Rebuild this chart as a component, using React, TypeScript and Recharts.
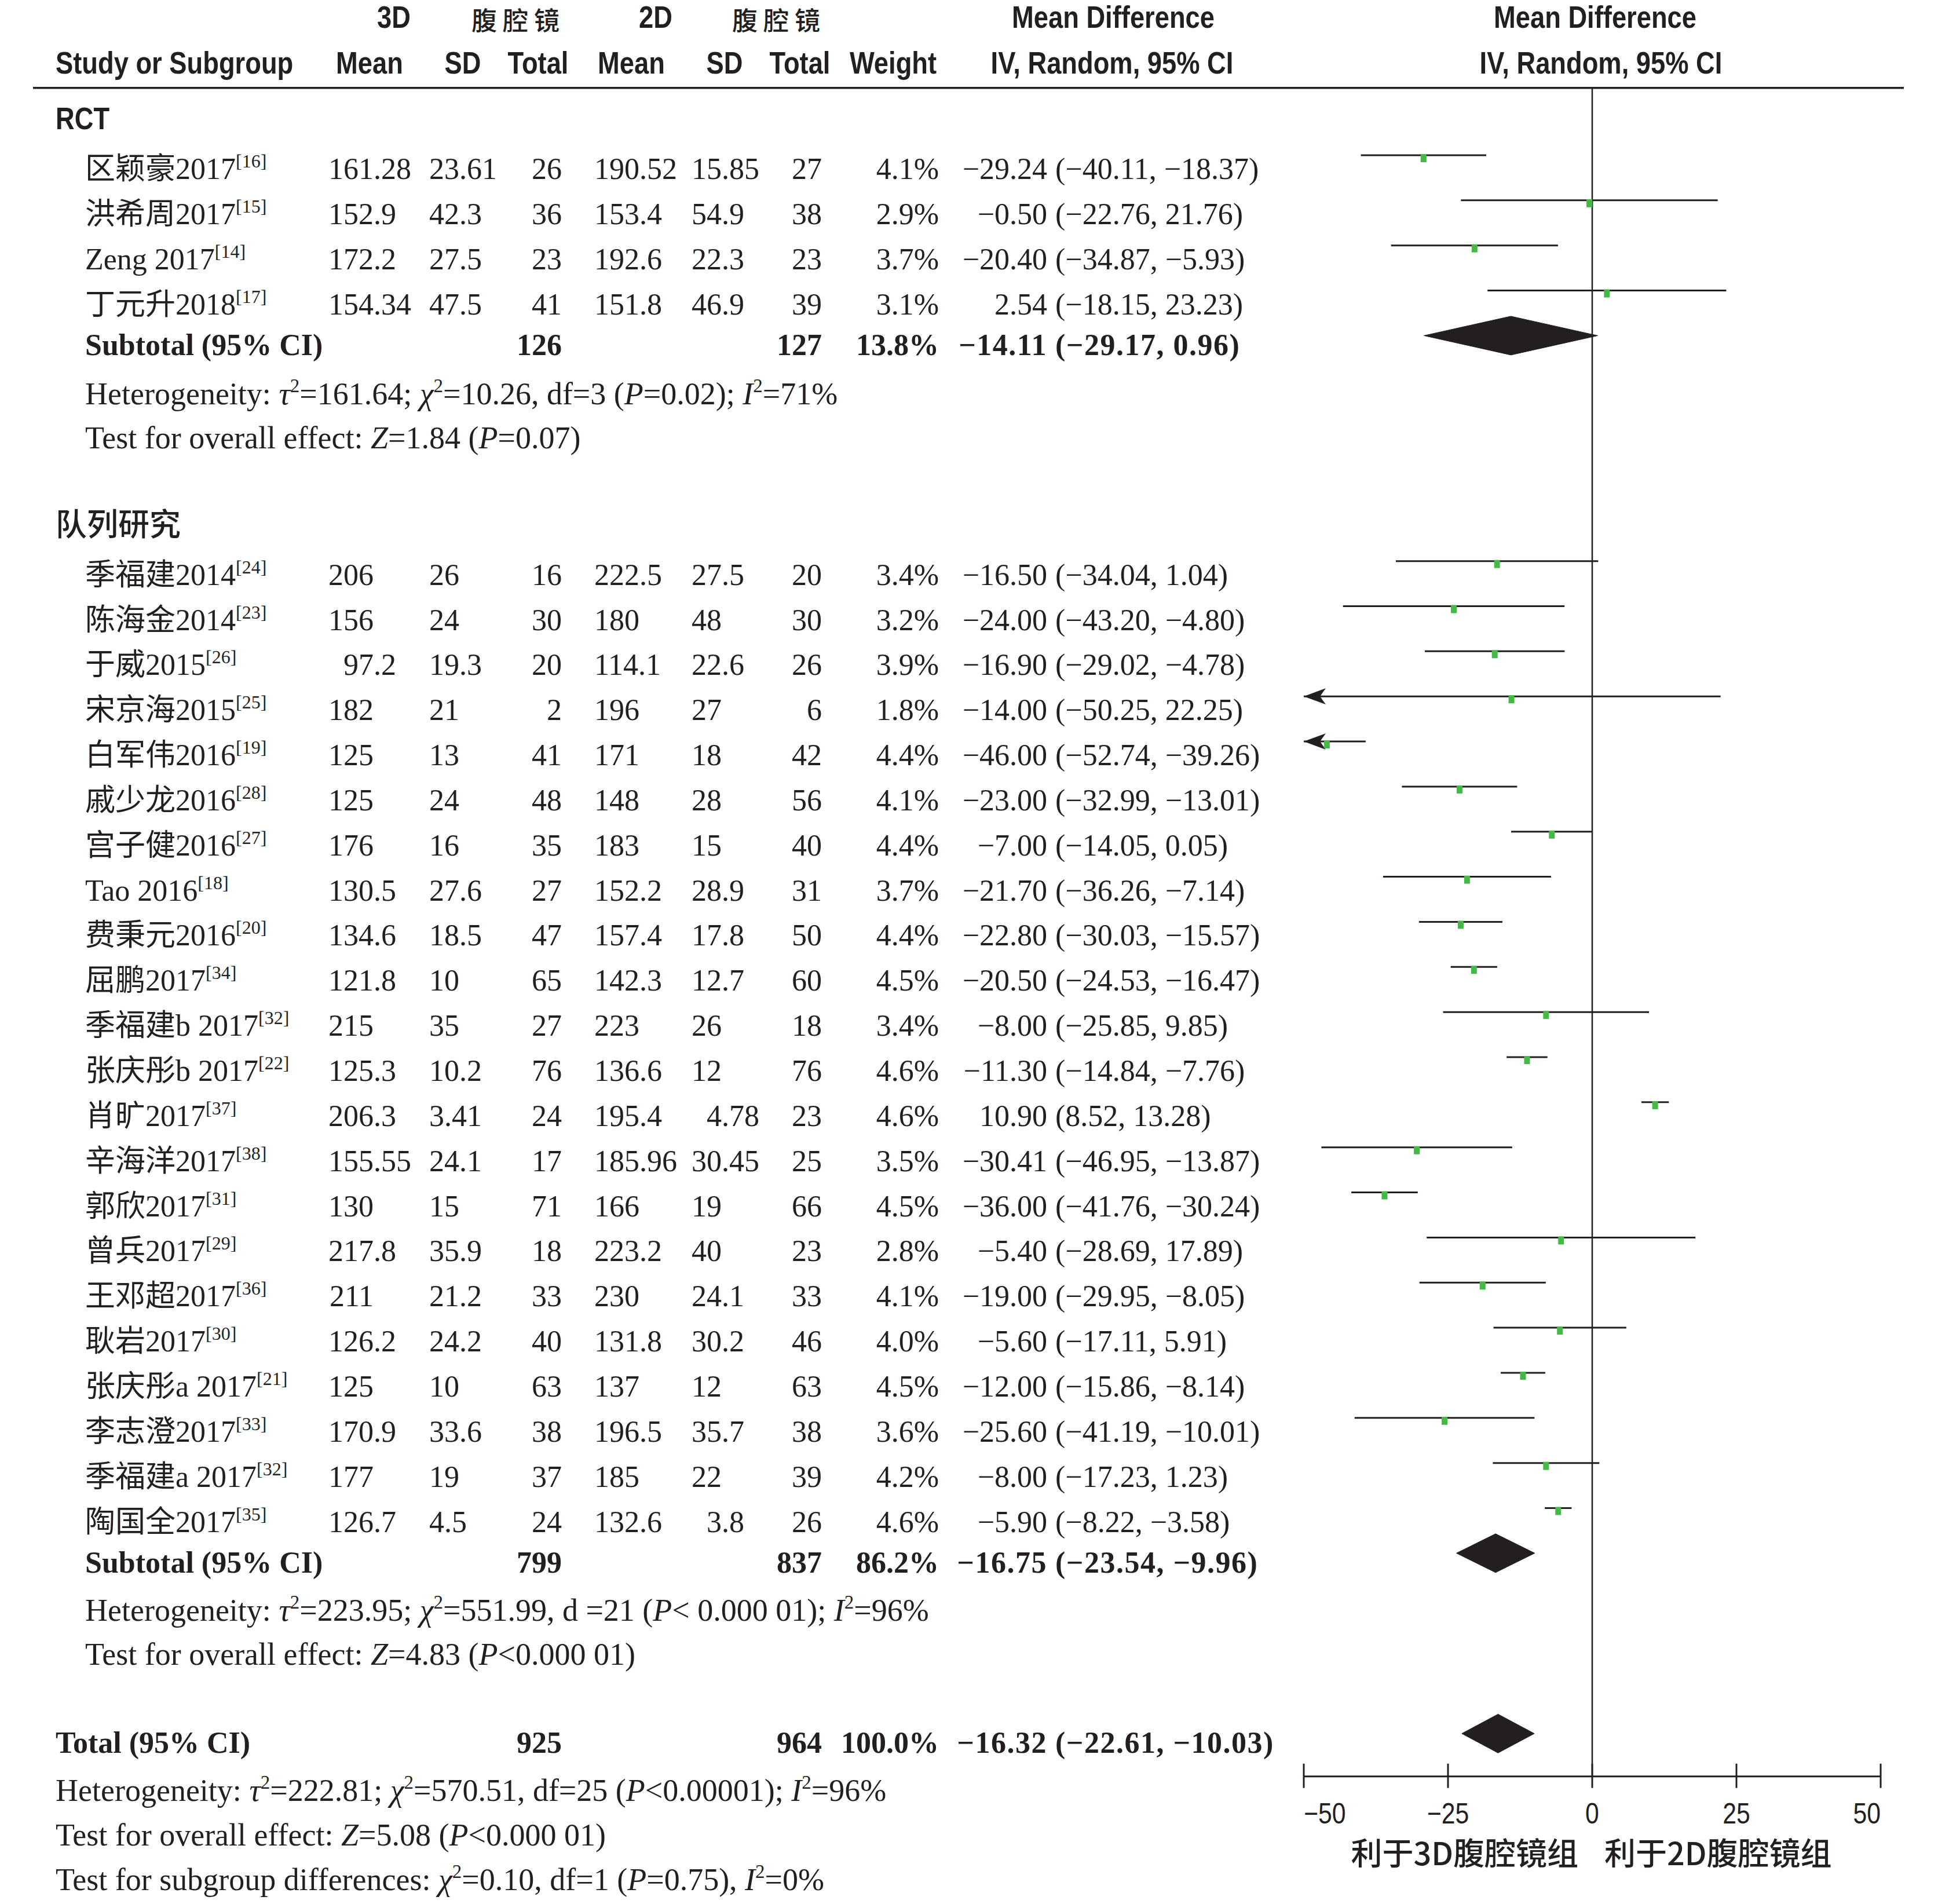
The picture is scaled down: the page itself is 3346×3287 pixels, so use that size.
import React from "react";
import { ComposedChart, ReferenceLine, Scatter, XAxis, YAxis } from "recharts";

// ---- data: RCT ----
const rctNames = ["区颖豪2017", "洪希周2017", "Zeng 2017", "丁元升2018"];
const rctRefs = ["16", "15", "14", "17"];
const rctMean3D = [161.28, 152.9, 172.2, 154.34];
const rctSD3D = [23.61, 42.3, 27.5, 47.5];
const rctN3D = [26, 36, 23, 41];
const rctMean2D = [190.52, 153.4, 192.6, 151.8];
const rctSD2D = [15.85, 54.9, 22.3, 46.9];
const rctN2D = [27, 38, 23, 39];
const rctWeight = [4.1, 2.9, 3.7, 3.1];
const rctMD = [-29.24, -0.5, -20.4, 2.54];
const rctLo = [-40.11, -22.76, -34.87, -18.15];
const rctHi = [-18.37, 21.76, -5.93, 23.23];

// ---- data: 队列研究 ----
const cohNames = [
  "季福建2014", "陈海金2014", "于威2015", "宋京海2015", "白军伟2016", "戚少龙2016",
  "宫子健2016", "Tao 2016", "费秉元2016", "屈鹏2017", "季福建b 2017", "张庆彤b 2017",
  "肖旷2017", "辛海洋2017", "郭欣2017", "曾兵2017", "王邓超2017", "耿岩2017",
  "张庆彤a 2017", "李志澄2017", "季福建a 2017", "陶国全2017",
];
const cohRefs = ["24", "23", "26", "25", "19", "28", "27", "18", "20", "34", "32", "22", "37", "38", "31", "29", "36", "30", "21", "33", "32", "35"];
const cohMean3D = [206, 156, 97.2, 182, 125, 125, 176, 130.5, 134.6, 121.8, 215, 125.3, 206.3, 155.55, 130, 217.8, 211, 126.2, 125, 170.9, 177, 126.7];
const cohSD3D = [26, 24, 19.3, 21, 13, 24, 16, 27.6, 18.5, 10, 35, 10.2, 3.41, 24.1, 15, 35.9, 21.2, 24.2, 10, 33.6, 19, 4.5];
const cohN3D = [16, 30, 20, 2, 41, 48, 35, 27, 47, 65, 27, 76, 24, 17, 71, 18, 33, 40, 63, 38, 37, 24];
const cohMean2D = [222.5, 180, 114.1, 196, 171, 148, 183, 152.2, 157.4, 142.3, 223, 136.6, 195.4, 185.96, 166, 223.2, 230, 131.8, 137, 196.5, 185, 132.6];
const cohSD2D = [27.5, 48, 22.6, 27, 18, 28, 15, 28.9, 17.8, 12.7, 26, 12, 4.78, 30.45, 19, 40, 24.1, 30.2, 12, 35.7, 22, 3.8];
const cohN2D = [20, 30, 26, 6, 42, 56, 40, 31, 50, 60, 18, 76, 23, 25, 66, 23, 33, 46, 63, 38, 39, 26];
const cohWeight = [3.4, 3.2, 3.9, 1.8, 4.4, 4.1, 4.4, 3.7, 4.4, 4.5, 3.4, 4.6, 4.6, 3.5, 4.5, 2.8, 4.1, 4.0, 4.5, 3.6, 4.2, 4.6];
const cohMD = [-16.5, -24, -16.9, -14, -46, -23, -7, -21.7, -22.8, -20.5, -8, -11.3, 10.9, -30.41, -36, -5.4, -19, -5.6, -12, -25.6, -8, -5.9];
const cohLo = [-34.04, -43.2, -29.02, -50.25, -52.74, -32.99, -14.05, -36.26, -30.03, -24.53, -25.85, -14.84, 8.52, -46.95, -41.76, -28.69, -29.95, -17.11, -15.86, -41.19, -17.23, -8.22];
const cohHi = [1.04, -4.8, -4.78, 22.25, -39.26, -13.01, 0.05, -7.14, -15.57, -16.47, 9.85, -7.76, 13.28, -13.87, -30.24, 17.89, -8.05, 5.91, -8.14, -10.01, 1.23, -3.58];

// ---- pooled ----
const groupLabels = ["RCT", "队列研究"];
const subN3D = [126, 799];
const subN2D = [127, 837];
const subWeight = [13.8, 86.2];
const subMD = [-14.11, -16.75];
const subLo = [-29.17, -23.54];
const subHi = [0.96, -9.96];
const totN3D = 925;
const totN2D = 964;
const totWeight = 100.0;
const totMD = -16.32;
const totLo = -22.61;
const totHi = -10.03;

const hetTexts = [
  "Heterogeneity: _τ_^2^=161.64; _χ_^2^=10.26, df=3 (_P_=0.02); _I_^2^=71%",
  "Heterogeneity: _τ_^2^=223.95; _χ_^2^=551.99, d =21 (_P_< 0.000 01); _I_^2^=96%",
  "Heterogeneity: _τ_^2^=222.81; _χ_^2^=570.51, df=25 (_P_<0.00001); _I_^2^=96%",
];
const effectTexts = [
  "Test for overall effect: _Z_=1.84 (_P_=0.07)",
  "Test for overall effect: _Z_=4.83 (_P_<0.000 01)",
  "Test for overall effect: _Z_=5.08 (_P_<0.000 01)",
];
const subgroupText = "Test for subgroup differences: _χ_^2^=0.10, df=1 (_P_=0.75), _I_^2^=0%";

const xTicks = [-50, -25, 0, 25, 50];
const favourLabels = ["利于3D腹腔镜组", "利于2D腹腔镜组"];

// ---- layout ----
const W = 3346;
const H = 3287;
const ROW0 = 268; // y of first study line
const ROW_PX = 77.85;
const K_TOP = -3.4;
const K_BOTTOM = 38.6;
const M_TOP = ROW0 + K_TOP * ROW_PX;
const M_BOTTOM = H - (ROW0 + K_BOTTOM * ROW_PX);
const TXT = 41; // baseline below the CI line

const K = {
  head1: -3.35, head2: -2.34, zeroTop: -1.49,
  rctLabel: -1.1, rctStart: 0, rctSub: 4, rctHet: 5.0, rctTest: 5.97,
  cohLabel: 7.91, cohStart: 9, cohSub: 31, cohHet: 31.97, cohTest: 32.95,
  tot: 35, totHet: 35.97, totTest: 36.96, totSubgroup: 37.94,
  axis: 35.95, favour: 37.92,
};
const SUB_TXT_SHIFT = -0.1;
const DIAMOND_HALF = 0.43;

const X_LEFT = 96, X_INDENT = 147;
const X_M1_DEC = 645, X_SD1 = 741, X_N1 = 970, X_M2 = 1026, X_SD2_DEC = 1246, X_N2 = 1419, X_W = 1621, X_MD = 1808, X_CI = 1822;

const INK = "#231f20";
const GREEN = "#45b945";
const SERIF = "'Liberation Serif','Noto Sans CJK SC',serif";
const SANS = "'Liberation Sans','Noto Sans CJK SC',sans-serif";
const CJK = "'Noto Sans CJK SC',sans-serif";
const SX = 0.855;

const minus = (s: string) => s.replace(/-/g, "−");
const num = (v: number) => minus(String(v));
const f2 = (v: number) => minus(v.toFixed(2));
const pct = (v: number) => v.toFixed(1) + "%";

function T({ x, y, a = "start", w = 400, f = SERIF, s = 52, ls = 0, children }: any) {
  return (
    <text x={x} y={y} textAnchor={a} fontFamily={f} fontSize={s} fontWeight={w} letterSpacing={ls} fill={INK} style={{ whiteSpace: "pre" }}>
      {children}
    </text>
  );
}

function C({ x, y, a = "middle", w = 700, s = 53, children }: any) {
  return (
    <text transform={`translate(${x} ${y}) scale(${SX} 1)`} textAnchor={a} fontFamily={SANS} fontSize={s} fontWeight={w} fill={INK} style={{ whiteSpace: "pre" }}>
      {children}
    </text>
  );
}

function Dec({ v, x, y, w = 400 }: any) {
  const [i, fr] = num(v).split(".");
  return (
    <g>
      <T x={x} y={y} a="end" w={w}>{i}</T>
      {fr && <T x={x} y={y} w={w}>.{fr}</T>}
    </g>
  );
}

function Rich({ x, y, src }: { x: number; y: number; src: string }) {
  const parts = src.split(/(_[^_]+_|\^[^^]+\^)/).filter(Boolean);
  let up = false;
  return (
    <text x={x} y={y} fontFamily={SERIF} fontSize={54} fill={INK} style={{ whiteSpace: "pre" }}>
      {parts.map((p, i) => {
        if (p.startsWith("^")) {
          up = true;
          return <tspan key={i} dy={-21} fontSize={33}>{p.slice(1, -1)}</tspan>;
        }
        const dy = up ? 21 : undefined;
        up = false;
        if (p.startsWith("_")) return <tspan key={i} dy={dy} fontStyle="italic">{p.slice(1, -1)}</tspan>;
        return <tspan key={i} dy={dy}>{p}</tspan>;
      })}
    </text>
  );
}

type Study = { name: string; ref: string; m1: number; sd1: number; n1: number; m2: number; sd2: number; n2: number; w: number; md: number; lo: number; hi: number; k: number };

const makeStudies = (names: string[], refs: string[], m1: number[], sd1: number[], n1: number[], m2: number[], sd2: number[], n2: number[], w: number[], md: number[], lo: number[], hi: number[], start: number): Study[] =>
  names.map((name, i) => ({ name, ref: refs[i], m1: m1[i], sd1: sd1[i], n1: n1[i], m2: m2[i], sd2: sd2[i], n2: n2[i], w: w[i], md: md[i], lo: lo[i], hi: hi[i], k: start + i }));

const rctStudies = makeStudies(rctNames, rctRefs, rctMean3D, rctSD3D, rctN3D, rctMean2D, rctSD2D, rctN2D, rctWeight, rctMD, rctLo, rctHi, K.rctStart);
const cohStudies = makeStudies(cohNames, cohRefs, cohMean3D, cohSD3D, cohN3D, cohMean2D, cohSD2D, cohN2D, cohWeight, cohMD, cohLo, cohHi, K.cohStart);
const studies = [...rctStudies, ...cohStudies];

const pooled = [
  { label: "Subtotal (95% CI)", x: X_INDENT, n1: subN3D[0], n2: subN2D[0], w: subWeight[0], md: subMD[0], lo: subLo[0], hi: subHi[0], k: K.rctSub },
  { label: "Subtotal (95% CI)", x: X_INDENT, n1: subN3D[1], n2: subN2D[1], w: subWeight[1], md: subMD[1], lo: subLo[1], hi: subHi[1], k: K.cohSub },
  { label: "Total (95% CI)", x: X_LEFT, n1: totN3D, n2: totN2D, w: totWeight, md: totMD, lo: totLo, hi: totHi, k: K.tot },
];

const tableRows: any[] = [
  { kind: "head1", y: K.head1 },
  { kind: "head2", y: K.head2 },
  { kind: "group", y: K.rctLabel, label: groupLabels[0] },
  { kind: "group", y: K.cohLabel, label: groupLabels[1] },
  ...studies.map((s) => ({ kind: "study", y: s.k, s })),
  ...pooled.map((p) => ({ kind: "pooled", y: p.k + SUB_TXT_SHIFT, p })),
  { kind: "note", y: K.rctHet, x0: X_INDENT, src: hetTexts[0] },
  { kind: "note", y: K.rctTest, x0: X_INDENT, src: effectTexts[0] },
  { kind: "note", y: K.cohHet, x0: X_INDENT, src: hetTexts[1] },
  { kind: "note", y: K.cohTest, x0: X_INDENT, src: effectTexts[1] },
  { kind: "note", y: K.totHet, x0: X_LEFT, src: hetTexts[2] },
  { kind: "note", y: K.totTest, x0: X_LEFT, src: effectTexts[2] },
  { kind: "note", y: K.totSubgroup, x0: X_LEFT, src: subgroupText },
].map((r) => ({ ...r, x: 0 }));

function renderRow(props: any) {
  const { cy, payload: r } = props;
  const b = cy + TXT;
  if (r.kind === "head1") {
    return (
      <g>
        <C x={680} y={b}>3D</C>
        <T x={895} y={b + 4} a="middle" f={CJK} s={44} w={500} ls={10}>腹腔镜</T>
        <C x={1132} y={b}>2D</C>
        <T x={1345} y={b + 4} a="middle" f={CJK} s={44} w={500} ls={10}>腹腔镜</T>
        <C x={1922} y={b}>Mean Difference</C>
        <C x={2754} y={b}>Mean Difference</C>
      </g>
    );
  }
  if (r.kind === "head2") {
    return (
      <g>
        <C x={X_LEFT} y={b} a="start">Study or Subgroup</C>
        <C x={638} y={b}>Mean</C>
        <C x={799} y={b}>SD</C>
        <C x={929} y={b}>Total</C>
        <C x={1090} y={b}>Mean</C>
        <C x={1251} y={b}>SD</C>
        <C x={1381} y={b}>Total</C>
        <C x={1542} y={b}>Weight</C>
        <C x={1920} y={b}>IV, Random, 95% CI</C>
        <C x={2764} y={b}>IV, Random, 95% CI</C>
        <line x1={57} x2={3287} y1={b + 25} y2={b + 25} stroke={INK} strokeWidth={3.5} />
      </g>
    );
  }
  if (r.kind === "group") {
    return /[A-Z]/.test(r.label) ? (
      <C x={X_LEFT} y={b} a="start">{r.label}</C>
    ) : (
      <T x={X_LEFT} y={b} f={CJK} s={54} w={500}>{r.label}</T>
    );
  }
  if (r.kind === "study") {
    const s: Study = r.s;
    return (
      <g>
        <text x={X_INDENT} y={b} fontFamily={SERIF} fontSize={52} fill={INK} style={{ whiteSpace: "pre" }}>
          {s.name}
          <tspan dy={-20} fontSize={32}>[{s.ref}]</tspan>
        </text>
        <Dec v={s.m1} x={X_M1_DEC} y={b} />
        <T x={X_SD1} y={b}>{num(s.sd1)}</T>
        <T x={X_N1} y={b} a="end">{s.n1}</T>
        <T x={X_M2} y={b}>{num(s.m2)}</T>
        <Dec v={s.sd2} x={X_SD2_DEC} y={b} />
        <T x={X_N2} y={b} a="end">{s.n2}</T>
        <T x={X_W} y={b} a="end">{pct(s.w)}</T>
        <T x={X_MD} y={b} a="end">{f2(s.md)}</T>
        <T x={X_CI} y={b}>{`(${f2(s.lo)}, ${f2(s.hi)})`}</T>
      </g>
    );
  }
  if (r.kind === "pooled") {
    const p = r.p;
    return (
      <g>
        <T x={p.x} y={b} w={700}>{p.label}</T>
        <T x={X_N1} y={b} a="end" w={700}>{p.n1}</T>
        <T x={X_N2} y={b} a="end" w={700}>{p.n2}</T>
        <T x={X_W} y={b} a="end" w={700}>{pct(p.w)}</T>
        <T x={X_MD} y={b} a="end" w={700} ls={1.5}>{f2(p.md)}</T>
        <T x={X_CI} y={b} w={700} ls={1.5}>{`(${f2(p.lo)}, ${f2(p.hi)})`}</T>
      </g>
    );
  }
  if (r.kind === "note") return <Rich x={r.x0} y={b} src={r.src} />;
  return <g />;
}

const noShape = () => <g />;

const markerData = studies.map((s) => ({ x: s.md, y: s.k }));
const arrowData = studies.filter((s) => s.lo < -50).map((s) => ({ x: -50, y: s.k }));
const tickData = xTicks.map((v, i) => ({ x: v, y: K.axis, i }));

function renderTick(props: any) {
  const { cx, cy, payload } = props;
  const a = payload.i === 0 ? "start" : payload.i === xTicks.length - 1 ? "end" : "middle";
  return (
    <g>
      <line x1={cx} x2={cx} y1={cy - 22} y2={cy + 20} stroke={INK} strokeWidth={3} />
      <C x={cx} y={cy + 81} a={a} w={400} s={50}>{minus(String(payload.x))}</C>
    </g>
  );
}

function renderFavour(props: any) {
  const { cx, cy } = props;
  return (
    <g>
      <text x={cx - 24} y={cy} textAnchor="end" fontFamily={CJK} fontSize={54} fontWeight={500} fill={INK}>{favourLabels[0]}</text>
      <text x={cx + 21} y={cy} textAnchor="start" fontFamily={CJK} fontSize={54} fontWeight={500} fill={INK}>{favourLabels[1]}</text>
    </g>
  );
}

export default function App() {
  return (
    <div style={{ position: "absolute", left: 0, top: 0, width: W, height: H, background: "#fff" }}>
      <ComposedChart width={W} height={H} margin={{ top: M_TOP, right: 99, bottom: M_BOTTOM, left: 2251 }}>
        <XAxis type="number" dataKey="x" domain={[-50, 50]} hide />
        <YAxis type="number" dataKey="y" domain={[K_TOP, K_BOTTOM]} reversed hide />
        <ReferenceLine segment={[{ x: 0, y: K.zeroTop }, { x: 0, y: K.axis }]} stroke={INK} strokeWidth={2.5} />
        <ReferenceLine segment={[{ x: -50, y: K.axis }, { x: 50, y: K.axis }]} stroke={INK} strokeWidth={3} />
        {studies.map((s, i) => (
          <Scatter
            key={"ci" + i}
            data={[{ x: Math.max(s.lo, -50), y: s.k }, { x: Math.min(s.hi, 50), y: s.k }]}
            line={{ stroke: INK, strokeWidth: 3 }}
            fill={INK}
            shape={noShape}
            isAnimationActive={false}
          />
        ))}
        {pooled.map((p, i) => (
          <Scatter
            key={"dm" + i}
            data={[
              { x: p.lo, y: p.k },
              { x: p.md, y: p.k - DIAMOND_HALF },
              { x: p.hi, y: p.k },
              { x: p.md, y: p.k + DIAMOND_HALF },
            ]}
            line={{ stroke: INK, fill: INK, strokeWidth: 1 }}
            lineJointType="linearClosed"
            fill={INK}
            shape={noShape}
            isAnimationActive={false}
          />
        ))}
        <Scatter
          data={arrowData}
          isAnimationActive={false}
          shape={(p: any) => (
            <polygon points={`${p.cx},${p.cy} ${p.cx + 38},${p.cy - 14} ${p.cx + 28},${p.cy} ${p.cx + 38},${p.cy + 14}`} fill={INK} />
          )}
        />
        <Scatter
          data={markerData}
          isAnimationActive={false}
          shape={(p: any) => <rect x={p.cx - 5} y={p.cy - 2} width={10} height={14} fill={GREEN} />}
        />
        <Scatter data={tickData} isAnimationActive={false} shape={renderTick} />
        <Scatter data={[{ x: 0, y: K.favour }]} isAnimationActive={false} shape={renderFavour} />
        <Scatter data={tableRows} isAnimationActive={false} shape={renderRow} />
      </ComposedChart>
    </div>
  );
}
